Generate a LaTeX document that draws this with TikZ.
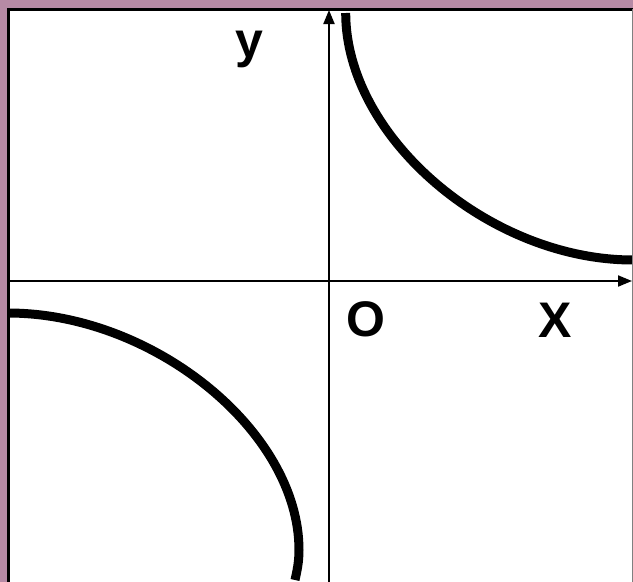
\documentclass[tikz,border=0pt]{standalone}
\usepackage{fontspec}
\setmainfont{Liberation Sans}
\usetikzlibrary{arrows.meta}
\definecolor{slide}{RGB}{183,138,165}
\begin{document}
\begin{tikzpicture}[x=1pt,y=-1pt,
  axis/.style={line width=2pt,-{Triangle[length=14pt,width=11pt]}},
  branch/.style={line width=9pt,line cap=butt},
  lbl/.style={font=\bfseries\fontsize{50}{60}\selectfont, anchor=base, inner sep=0pt}]
\useasboundingbox (0,0) rectangle (633,582);
\fill[slide] (0,0) rectangle (633,582);
\fill[white] (8.7,9.4) rectangle (633,582);
\begin{scope}
\clip (8.7,9.4) rectangle (633,582);
\draw[branch] (345.7,13) .. controls (345.7,137) and (489.5,260) .. (633,260);
\draw[branch] (8,313) .. controls (153.5,313) and (299,431.5) .. (299,550) .. controls (299,562) and (297,571) .. (295,580);
\end{scope}
\coordinate (xl) at (10,281);
\coordinate (xr) at (632,281);
\coordinate (yb) at (329,582);
\coordinate (yt) at (329,10);
\draw[axis] (xl) -- (xr);
\draw[axis] (yb) -- (yt);
\draw[line width=3pt] (8.7,582) -- (8.7,9.4) -- (633,9.4);
\draw[gray,line width=1pt] (632.3,9.4) -- (632.3,582);
\node[lbl] (ylab) at (249,57) {y};
\node[lbl] (olab) at (365.5,336) {O};
\node[lbl] (xlab) at (555.5,337) {X};
\end{tikzpicture}
\end{document}
